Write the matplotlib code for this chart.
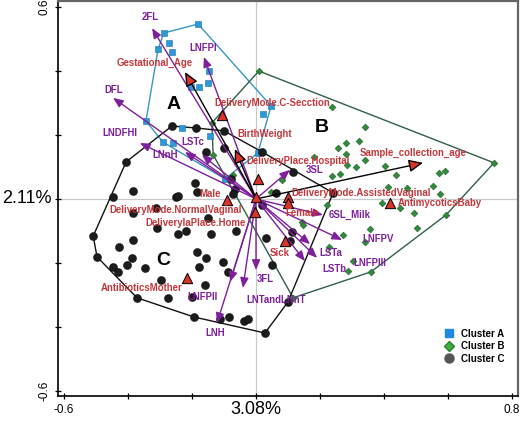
import numpy as np
import matplotlib
matplotlib.use('Agg')
import matplotlib.pyplot as plt
from matplotlib.lines import Line2D
import matplotlib.transforms as mtransforms

# ---- data (ordination scores) ----
A_X = [-0.181, -0.288, -0.344, -0.291, -0.097, 0.006, 0.047, -0.272, -0.306, -0.263,
       -0.147, -0.203, -0.178, -0.150, -0.231, -0.144, -0.259, 0.022]
A_Y = [0.547, 0.519, 0.244, 0.178, 0.063, 0.144, 0.291, 0.488, 0.469, 0.459,
       0.400, 0.350, 0.350, 0.363, 0.222, 0.197, 0.175, 0.266]

B_X = [0.009, 0.744, 0.594, 0.359, 0.116, -0.072, -0.134, -0.138, 0.238, 0.341,
       0.322, 0.281, 0.256, 0.281, 0.341, 0.313, 0.284, 0.181, 0.403, 0.438,
       0.572, 0.591, 0.263, 0.238, 0.081, 0.413, 0.472, 0.553, 0.575, 0.047,
       0.222, 0.394, 0.450, 0.494, 0.503, 0.144, 0.147, 0.272, 0.356, 0.341,
       0.228, 0.303, 0.288]
B_Y = [0.400, 0.113, -0.050, -0.228, -0.309, 0.075, 0.138, 0.238, 0.288, 0.225,
       0.181, 0.175, 0.159, 0.141, 0.122, 0.100, 0.106, 0.131, 0.103, 0.075,
       0.081, 0.088, 0.078, 0.072, 0.059, 0.038, 0.034, 0.041, 0.016, 0.022,
       -0.019, -0.013, -0.028, -0.044, -0.091, -0.072, -0.081, -0.113, -0.094, -0.134,
       -0.150, -0.194, -0.225]

C_X = [-0.263, -0.188, -0.100, 0.019, 0.241, 0.100, 0.028, -0.194, -0.372, -0.497,
       -0.509, -0.447, -0.406, -0.156, -0.100, -0.078, -0.066, -0.072, -0.191, -0.384,
       -0.250, -0.244, -0.184, -0.313, 0.116, 0.063, 0.019, -0.384, -0.309, -0.244,
       -0.219, -0.150, -0.141, -0.063, -0.428, -0.384, -0.184, -0.156, -0.103, -0.447,
       -0.431, -0.403, -0.388, -0.347, -0.297, -0.178, -0.088, -0.275, -0.200, -0.159,
       -0.113, -0.084, -0.038, -0.025, 0.113, 0.106, 0.031, 0.050]
C_Y = [0.228, 0.222, 0.213, 0.147, 0.019, -0.322, -0.419, -0.369, -0.309, -0.181,
       -0.116, 0.006, 0.116, 0.147, 0.159, 0.063, 0.031, 0.016, 0.050, 0.025,
       0.006, 0.009, 0.022, -0.028, 0.084, 0.019, -0.019, -0.044, -0.091, -0.109,
       -0.100, -0.059, -0.109, -0.100, -0.150, -0.128, -0.166, -0.184, -0.197, -0.213,
       -0.228, -0.206, -0.184, -0.216, -0.253, -0.213, -0.228, -0.309, -0.306, -0.269,
       -0.375, -0.369, -0.381, -0.375, -0.103, -0.131, -0.122, -0.206]

# milk oligosaccharide vectors
HMO_NAMES = ['2FL', 'LNFPI', 'DFL', 'LNDFHI', 'LSTc', 'LNnH', '3SL', '6SL_Milk',
             'LNFPV', 'LSTa', 'LSTb', 'LNFPIII', '3FL', 'LNTandLNnT', 'LNFPII', 'LNH']
HMO_X = [-0.325, -0.163, -0.447, -0.363, -0.169, -0.222, 0.106, 0.209,
         0.269, 0.191, 0.153, 0.169, 0.000, -0.041, -0.081, -0.122]
HMO_Y = [0.534, 0.444, 0.316, 0.175, 0.138, 0.147, 0.091, -0.050,
         -0.128, -0.184, -0.194, -0.141, -0.222, -0.278, -0.259, -0.388]

# continuous covariates (arrows)
COV_NAMES = ['Gestational_Age', 'BirthWeight', 'Sample_collection_age']
COV_X = [-0.222, -0.066, 0.522]
COV_Y = [0.397, 0.156, 0.113]

# factor levels (triangles)
FAC_NAMES = ['DeliveryMode.C-Secction', 'DeliveryPlace.Hospital', 'Male',
             'DeliveryMode.NormalVaginal', 'DeliveryMode.AssistedVaginal', 'Female',
             'DeliverylaPlace.Home', 'Sick', 'AntibioticsMother', 'AntimycoticsBaby']
FAC_X = [-0.106, 0.006, -0.091, 0.000, 0.100, 0.100, -0.003, 0.091, -0.216, 0.419]
FAC_Y = [0.263, 0.063, -0.003, 0.006, 0.006, -0.013, -0.041, -0.131, -0.247, -0.013]

# where the text labels sit
LABEL_POS = {
    '2FL': (-0.331, 0.569), 'LNFPI': (-0.166, 0.472), 'DFL': (-0.444, 0.341),
    'LNDFHI': (-0.425, 0.206), 'LSTc': (-0.197, 0.178), 'LNnH': (-0.284, 0.138),
    '3SL': (0.184, 0.091), '6SL_Milk': (0.294, -0.050), 'LNFPV': (0.381, -0.125),
    'LSTa': (0.234, -0.169), 'LSTb': (0.244, -0.219), 'LNFPIII': (0.356, -0.200),
    '3FL': (0.028, -0.250), 'LNTandLNnT': (0.063, -0.316), 'LNFPII': (-0.166, -0.306),
    'LNH': (-0.128, -0.419),
    'Gestational_Age': (-0.316, 0.425), 'BirthWeight': (0.028, 0.203),
    'Sample_collection_age': (0.491, 0.144),
    'DeliveryMode.C-Secction': (0.050, 0.300), 'DeliveryPlace.Hospital': (0.131, 0.119),
    'Male': (-0.144, 0.016), 'DeliveryMode.NormalVaginal': (-0.250, -0.034),
    'DeliveryMode.AssistedVaginal': (0.328, 0.019), 'Female': (0.144, -0.044),
    'DeliverylaPlace.Home': (-0.188, -0.075), 'Sick': (0.075, -0.169),
    'AntibioticsMother': (-0.359, -0.278), 'AntimycoticsBaby': (0.575, -0.013),
}

PURPLE = '#7E1F9C'
RED = '#C4373A'
FONT = 'Liberation Sans'
LABEL_SIZE = 6.9


def convex_hull(xs, ys):
    pts = sorted(set(zip(xs, ys)))

    def cross(o, a, b):
        return (a[0] - o[0]) * (b[1] - o[1]) - (a[1] - o[1]) * (b[0] - o[0])

    lower, upper = [], []
    for p in pts:
        while len(lower) >= 2 and cross(lower[-2], lower[-1], p) <= 0:
            lower.pop()
        lower.append(p)
    for p in reversed(pts):
        while len(upper) >= 2 and cross(upper[-2], upper[-1], p) <= 0:
            upper.pop()
        upper.append(p)
    hull = lower[:-1] + upper[:-1]
    hull.append(hull[0])
    return [p[0] for p in hull], [p[1] for p in hull]


fig = plt.figure(figsize=(5.2, 4.22), dpi=100)
ax = fig.add_axes([58 / 520, 1 - 396 / 422, 460 / 520, 395 / 422])
ax.set_xlim(-0.619, 0.819)
ax.set_ylim(-0.616, 0.619)

ax.axhline(0, color='#c8c8c8', lw=0.9, zorder=0)
ax.axvline(0, color='#c8c8c8', lw=0.9, zorder=0)

# hulls
for xs, ys, col in [(A_X, A_Y, '#3A97C0'), (B_X, B_Y, '#2F5E4A'), (C_X, C_Y, '#111111')]:
    hx, hy = convex_hull(xs, ys)
    ax.plot(hx, hy, color=col, lw=1.0, zorder=1)

ax.scatter(A_X, A_Y, marker='s', s=16, color='#2B9AD8', edgecolor='#1E6FA0', lw=0.4, zorder=3)
ax.scatter(B_X, B_Y, marker='D', s=12, color='#2E8B3A', edgecolor='#1F5E25', lw=0.4, zorder=3)
ax.scatter(C_X, C_Y, marker='o', s=34, color='#1c1c1c', edgecolor='#000000', lw=0.3, zorder=3)

# HMO vectors
for name, x, y in zip(HMO_NAMES, HMO_X, HMO_Y):
    ax.annotate('', xy=(x, y), xytext=(0, 0),
                arrowprops=dict(arrowstyle='-|>,head_length=0.6,head_width=0.25',
                                color=PURPLE, lw=1.0, shrinkA=0, shrinkB=0), zorder=4)
    lx, ly = LABEL_POS[name]
    ax.text(lx, ly, name, color=PURPLE, fontsize=LABEL_SIZE, fontweight='bold', family=FONT,
            ha='center', va='center', zorder=6)

# covariate vectors
for name, x, y in zip(COV_NAMES, COV_X, COV_Y):
    ax.annotate('', xy=(x, y), xytext=(0, 0),
                arrowprops=dict(arrowstyle='-|>,head_length=0.85,head_width=0.38',
                                fc='#D9342B', ec='black', lw=1.0, shrinkA=0, shrinkB=0), zorder=5)
    lx, ly = LABEL_POS[name]
    ax.text(lx, ly, name, color=RED, fontsize=LABEL_SIZE, fontweight='bold', family=FONT,
            ha='center', va='center', zorder=6)

ax.scatter(FAC_X, FAC_Y, marker='^', s=55, color='#D9342B', edgecolor='black', lw=0.7, zorder=5)
for name in FAC_NAMES:
    lx, ly = LABEL_POS[name]
    ax.text(lx, ly, name, color=RED, fontsize=LABEL_SIZE, fontweight='bold', family=FONT,
            ha='center', va='center', zorder=6)

for letter, (lx, ly) in zip('ABC', [(-0.259, 0.294), (0.206, 0.222), (-0.291, -0.191)]):
    ax.text(lx, ly, letter, fontsize=14, fontweight='bold', family=FONT,
            ha='center', va='center', zorder=6)

# axes styling
ax.set_xticks(np.arange(-0.6, 0.81, 0.2))
ax.set_yticks(np.arange(-0.6, 0.61, 0.2))
ax.set_xticklabels(['-0.6', '', '', '', '', '', '', '0.8'])
ax.set_yticklabels(['-0.6', '', '', '', '', '', '0.6'], rotation=90, va='center')
ax.tick_params(direction='inout', length=5, width=0.9, labelsize=8.5, pad=3)
for lab in ax.get_xticklabels() + ax.get_yticklabels():
    lab.set_family(FONT)
for side in ['left', 'bottom']:
    ax.spines[side].set_linewidth(1.2)
for side in ['top', 'right']:
    ax.spines[side].set_color('#666666')
    ax.spines[side].set_linewidth(1.6)

tr_x = mtransforms.blended_transform_factory(ax.transData, fig.transFigure)
ax.text(0, 1 - 410 / 422, '3.08%', transform=tr_x, fontsize=13, family=FONT,
        ha='center', va='center')
tr_y = mtransforms.blended_transform_factory(fig.transFigure, ax.transData)
ax.text(2 / 520, 0, '2.11%', transform=tr_y, fontsize=13, family=FONT,
        ha='left', va='center')

handles = [
    Line2D([], [], marker='s', ls='none', color='#1E88E5', markersize=6),
    Line2D([], [], marker='D', ls='none', color='#3CB043', markeredgecolor='#2A7F2F', markersize=5),
    Line2D([], [], marker='o', ls='none', color='#555555', markersize=6.5),
]
ax.legend(handles, ['Cluster A', 'Cluster B', 'Cluster C'], loc='lower right',
          bbox_to_anchor=(0.99, 0.06), frameon=False, handletextpad=0.2,
          labelspacing=0.25, prop={'family': FONT, 'weight': 'bold', 'size': 7})

fig.savefig('out.png', dpi=100)
